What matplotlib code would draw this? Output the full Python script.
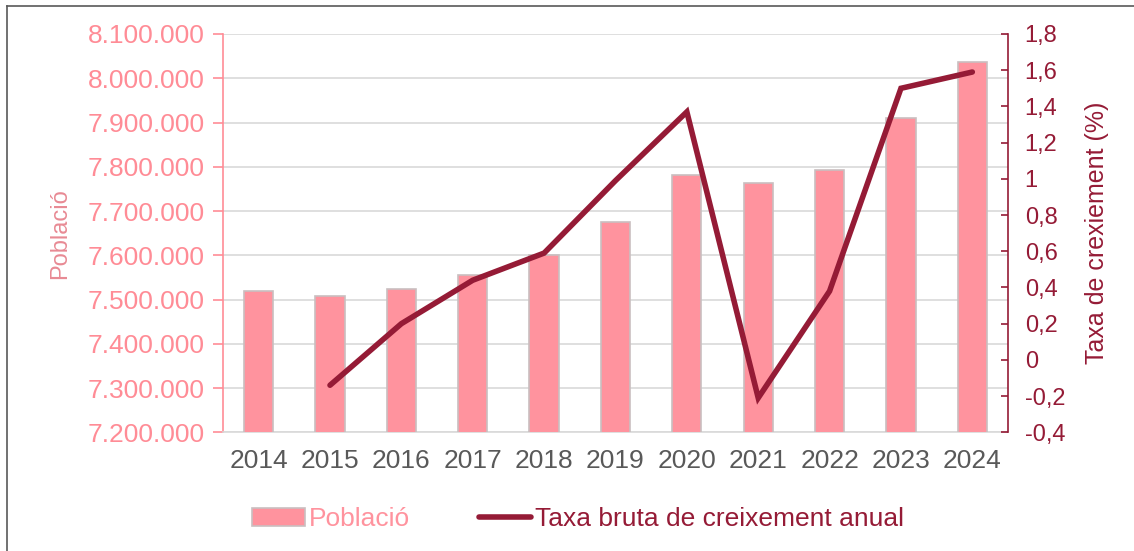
import numpy as np
import matplotlib.pyplot as plt
from matplotlib.lines import Line2D
from matplotlib.ticker import FuncFormatter

plt.rcParams['font.family'] = ['Liberation Sans', 'DejaVu Sans']

years = ['2014', '2015', '2016', '2017', '2018', '2019', '2020', '2021', '2022', '2023', '2024']
poblacio = [7520000, 7509000, 7524000, 7556000, 7600000, 7676000, 7781000, 7764000, 7793000, 7910000, 8036000]
taxa_years = ['2015', '2016', '2017', '2018', '2019', '2020', '2021', '2022', '2023', '2024']
taxa = [-0.14, 0.20, 0.44, 0.59, 0.99, 1.37, -0.21, 0.38, 1.50, 1.59]

pink = '#FF939E'
pink_txt = '#FF8C96'
wine = '#951B36'

fig = plt.figure(figsize=(11.34, 5.51), dpi=100)
ax = fig.add_axes([0.1966, 0.2154, 0.6923, 0.7229])
ax2 = ax.twinx()

ind = np.arange(len(years))
ax.bar(ind, poblacio, width=0.41, color=pink, edgecolor='#C9BFC0', linewidth=1.2,
       label='Població', zorder=3)
ax.set_ylim(7200000, 8100000)
ax.set_yticks(np.arange(7200000, 8100001, 100000))
ax.yaxis.set_major_formatter(FuncFormatter(lambda v, p: '{:,.0f}'.format(v).replace(',', '.')))
ax.set_xlim(-0.5, len(years) - 0.5)
ax.set_xticks(ind)
ax.set_xticklabels(years)
ax.grid(axis='y', color='#D9D9D9', linewidth=1.2, zorder=0)
ax.set_axisbelow(True)
ax.tick_params(axis='y', colors=pink_txt, labelsize=19, length=7, width=1.2, direction='out', pad=6)
ax.tick_params(axis='x', colors='#595959', labelsize=19, length=0, pad=12)
for lab in ax.get_xticklabels():
    lab.set_color('#595959')
ax.spines['left'].set_color(pink_txt)
ax.spines['left'].set_linewidth(1.2)
ax.spines['bottom'].set_color('#D9D9D9')
ax.spines['bottom'].set_linewidth(1.2)
ax.spines['top'].set_visible(False)
ax.spines['right'].set_visible(False)
ax.set_ylabel('Població', color='#E88A94', fontsize=17, labelpad=12)

tx = [years.index(y) for y in taxa_years]
ax2.plot(tx, taxa, color=wine, linewidth=4, solid_capstyle='round', solid_joinstyle='miter',
         label='Taxa bruta de creixement anual', zorder=4)
ax2.set_ylim(-0.4, 1.8)
ax2.set_yticks(np.round(np.arange(-0.4, 1.81, 0.2), 1))
ax2.yaxis.set_major_formatter(FuncFormatter(lambda v, p: ('%g' % round(v, 1)).replace('.', ',')))
ax2.tick_params(axis='y', colors=wine, labelsize=17, length=5, width=1.2, direction='in', pad=12)
ax2.spines['right'].set_color(wine)
ax2.spines['right'].set_linewidth(1.2)
for s in ['left', 'top', 'bottom']:
    ax2.spines[s].set_visible(False)
ax2.set_ylabel('Taxa de crexiement (%)', color=wine, fontsize=18, labelpad=14)

h1, l1 = ax.get_legend_handles_labels()
h2, l2 = ax2.get_legend_handles_labels()
fig.legend(h1 + h2, l1 + l2, loc='center', bbox_to_anchor=(0.51, 0.058), ncol=2, frameon=False,
           fontsize=19, labelcolor=[pink, wine], handlelength=2.0, handletextpad=0.15,
           columnspacing=2.6)

# outer frame (top and left visible only)
fig.add_artist(Line2D([7 / 1134, 7 / 1134], [0, 1 - 6 / 551], color='#595959', linewidth=1.2))
fig.add_artist(Line2D([7 / 1134, 1], [1 - 6 / 551, 1 - 6 / 551], color='#595959', linewidth=1.2))

plt.savefig('out.png', dpi=100)
